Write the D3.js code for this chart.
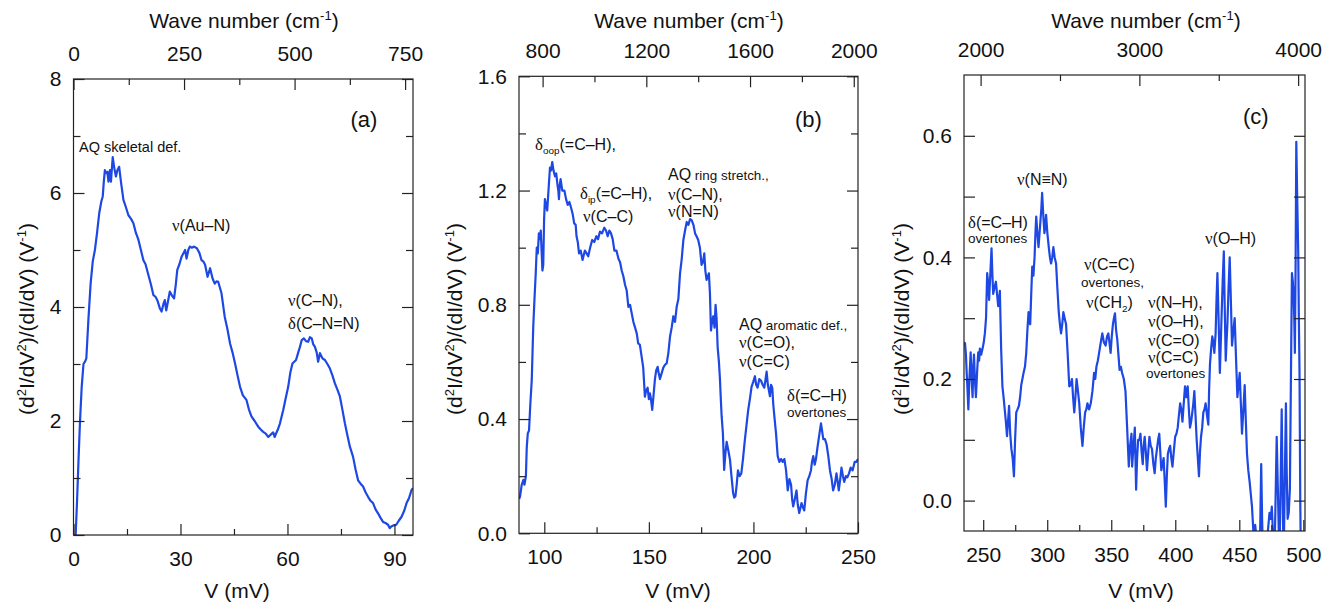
<!DOCTYPE html>
<html>
<head>
<meta charset="utf-8">
<script src="https://cdn.jsdelivr.net/npm/d3@7"></script>
<style>
body { margin: 0; background: #fff; }
text { font-family: "Liberation Sans", Arial, sans-serif; fill: #111; }
</style>
</head>
<body>
<svg id="chart" width="1337" height="605"></svg>
<script>
// ---- data: [V (mV), (d2I/dV2)/(dI/dV) (V^-1)] ----
var seriesA = [[0.6,0],[1.0,0.6],[1.4,1.3],[1.8,1.96],[2.3,2.6],[2.8,3.0],[3.3,3.05],[3.6,3.1],[4.2,3.8],[4.8,4.41],
 [5.4,4.8],[6.0,5.0],[6.6,5.3],[7.2,5.64],[7.8,5.85],[8.2,5.94],[8.5,6.2],[8.8,6.4],[9.2,6.35],[9.5,6.37],
 [9.8,6.2],[10.2,6.4],[10.5,6.2],[11.0,6.63],[11.4,6.45],[11.9,6.29],[12.3,6.4],[12.8,6.46],[13.3,6.2],[14.0,5.88],
 [14.7,5.75],[15.4,5.61],[16.1,5.55],[16.8,5.47],[17.5,5.3],[18.2,5.18],[18.9,5.0],[19.6,4.82],[20.2,4.75],[21.0,4.56],
 [21.7,4.4],[22.4,4.21],[23.0,4.18],[23.5,4.12],[24.2,3.98],[24.7,3.92],[25.2,4.05],[25.6,4.12],[26.0,3.94],[26.5,4.1],
 [27.0,4.27],[27.6,4.2],[28.2,4.15],[28.7,4.4],[29.1,4.65],[29.7,4.75],[30.3,4.88],[31.3,5.0],[31.7,4.85],[32.2,5.0],
 [32.6,5.06],[33.2,5.04],[33.8,5.06],[34.6,5.03],[35.3,4.95],[35.9,4.82],[36.4,4.8],[36.9,4.74],[37.6,4.53],[38.3,4.68],
 [39.0,4.5],[39.6,4.41],[40.1,4.45],[40.6,4.44],[41.0,4.35],[41.5,4.24],[42.4,3.83],[43.2,3.6],[43.9,3.36],[44.6,3.2],
 [45.3,3.01],[46.0,2.8],[46.7,2.6],[47.5,2.45],[48.5,2.37],[49.2,2.2],[49.9,2.08],[50.8,2.0],[51.8,1.9],[52.5,1.85],
 [53.2,1.81],[53.9,1.78],[54.6,1.72],[55.3,1.76],[56.0,1.8],[56.4,1.72],[56.8,1.78],[57.3,1.85],[57.9,1.96],[58.8,2.19],
 [59.5,2.4],[60.2,2.6],[60.8,2.85],[61.4,3.01],[62.4,3.07],[63.0,3.2],[63.5,3.3],[64.0,3.42],[64.6,3.45],[65.2,3.4],
 [65.8,3.39],[66.3,3.47],[66.8,3.45],[67.2,3.35],[67.7,3.3],[68.2,3.2],[68.6,3.04],[69.1,3.19],[69.8,3.1],[70.5,3.07],
 [71.2,3.0],[71.9,2.92],[72.6,2.8],[73.3,2.66],[74.0,2.55],[74.7,2.43],[75.4,2.2],[76.1,1.96],[76.8,1.75],[77.5,1.55],
 [78.4,1.37],[79.1,1.15],[79.8,0.96],[80.5,0.9],[81.2,0.85],[81.9,0.75],[82.6,0.67],[83.3,0.6],[84.0,0.56],[84.7,0.45],
 [85.4,0.38],[86.1,0.3],[86.8,0.23],[87.5,0.21],[88.2,0.18],[88.7,0.12],[89.1,0.15],[89.8,0.17],[90.5,0.18],[91.2,0.25],
 [92.0,0.32],[92.7,0.42],[93.4,0.56],[94.1,0.65],[94.8,0.79],[95.2,0.82]];

var seriesB = [[88.0,0.12],[88.4,0.129],[89.2,0.17],[90.0,0.187],[90.5,0.17],[91.2,0.2],[91.6,0.3],[92.1,0.35],[92.7,0.36],[93.3,0.45],
 [94.0,0.537],[94.7,0.72],[95.3,0.82],[95.9,0.91],[96.4,1.0],[96.9,0.98],[97.4,1.05],[97.9,1.03],[98.3,1.06],[98.7,0.99],
 [99.1,0.92],[99.5,0.94],[99.9,1.1],[100.3,1.17],[100.8,1.15],[101.4,1.13],[102.0,1.2],[102.7,1.28],[103.2,1.27],[103.8,1.30],
 [104.4,1.27],[105.1,1.25],[105.7,1.26],[106.3,1.22],[106.7,1.20],[107.0,1.17],[107.4,1.22],[107.8,1.24],[108.6,1.2],[109.6,1.20],
 [110.4,1.17],[111.2,1.15],[112.0,1.16],[112.8,1.14],[113.5,1.12],[114.3,1.085],[115.0,1.08],[115.4,1.04],[116.0,1.02],[116.6,0.98],
 [117.4,0.99],[118.3,0.957],[118.9,0.975],[119.4,0.99],[120.2,0.98],[121.0,0.97],[121.9,1.0],[122.9,1.027],[123.9,1.02],[124.9,1.04],
 [125.7,1.03],[126.6,1.056],[127.6,1.05],[128.7,1.07],[129.5,1.06],[130.3,1.04],[131.1,1.06],[131.9,1.05],[132.7,1.03],[133.5,0.99],
 [134.5,0.99],[135.5,0.96],[136.2,0.95],[137.0,0.92],[137.8,0.9],[138.6,0.87],[139.4,0.85],[140.2,0.793],[141.0,0.8],[141.8,0.77],
 [142.6,0.74],[143.4,0.72],[144.2,0.7],[144.9,0.665],[145.7,0.66],[146.5,0.62],[147.3,0.58],[148.1,0.478],[148.7,0.5],[149.4,0.51],
 [150.0,0.47],[150.5,0.49],[151.0,0.47],[151.6,0.432],[152.2,0.48],[152.9,0.54],[153.5,0.57],[154.2,0.583],[154.7,0.56],[155.3,0.54],
 [156.1,0.56],[156.9,0.58],[157.7,0.59],[158.5,0.595],[159.3,0.63],[160.1,0.688],[160.9,0.72],[161.7,0.76],[162.5,0.74],[163.3,0.793],
 [164.1,0.82],[164.9,0.91],[165.7,0.96],[166.5,1.027],[167.3,1.06],[168.1,1.09],[168.9,1.08],[169.7,1.1],[170.5,1.096],[171.3,1.08],
 [172.1,1.05],[172.8,1.04],[173.6,1.027],[174.4,1.0],[175.2,0.94],[175.9,0.95],[176.5,0.98],[177.0,0.92],[177.6,0.887],[178.2,0.9],
 [178.7,0.91],[179.2,0.84],[179.7,0.71],[180.2,0.74],[180.8,0.76],[181.4,0.72],[181.9,0.80],[182.4,0.75],[182.9,0.65],[183.5,0.6],
 [184.0,0.537],[184.4,0.47],[184.8,0.41],[185.4,0.35],[186.0,0.222],[186.6,0.28],[187.2,0.32],[188.0,0.29],[188.8,0.257],[189.5,0.2],
 [190.3,0.14],[190.8,0.125],[191.4,0.13],[192.0,0.17],[192.6,0.22],[193.4,0.2],[194.2,0.21],[195.0,0.26],[195.9,0.327],[196.7,0.38],
 [197.5,0.432],[198.3,0.47],[199.1,0.513],[199.9,0.53],[200.7,0.55],[201.3,0.52],[202.0,0.51],[202.8,0.54],[203.6,0.535],[204.4,0.52],
 [205.2,0.51],[205.8,0.54],[206.3,0.566],[206.9,0.52],[207.4,0.5],[207.9,0.48],[208.4,0.52],[209.0,0.51],[209.5,0.45],[210.0,0.41],
 [210.8,0.35],[211.6,0.27],[212.4,0.25],[213.2,0.26],[214.0,0.25],[214.8,0.26],[215.6,0.22],[216.4,0.15],[217.2,0.19],[218.0,0.17],
 [218.5,0.12],[219.0,0.094],[219.8,0.12],[220.6,0.15],[221.2,0.1],[221.9,0.071],[222.5,0.09],[223.0,0.106],[223.7,0.09],[224.3,0.08],
 [225.1,0.14],[225.9,0.185],[226.7,0.2],[227.5,0.22],[228.0,0.25],[228.6,0.27],[229.3,0.24],[229.9,0.26],[230.6,0.3],[231.4,0.34],
 [232.3,0.385],[232.8,0.36],[233.4,0.33],[234.2,0.33],[235.0,0.31],[235.8,0.27],[236.6,0.22],[237.4,0.19],[238.1,0.15],[238.9,0.17],
 [239.7,0.21],[240.3,0.18],[240.8,0.15],[241.5,0.19],[242.1,0.23],[242.8,0.2],[243.4,0.18],[244.2,0.2],[244.9,0.196],[245.7,0.21],
 [246.5,0.23],[247.4,0.22],[248.4,0.25],[249.2,0.25],[250,0.26]];

var seriesC = [[235.0,0.26],[235.8,0.259],[236.5,0.24],[237.1,0.21],[237.8,0.18],[238.4,0.15],[239.2,0.2],[240.2,0.244],[241.0,0.2],[241.7,0.17],
 [242.3,0.22],[242.8,0.24],[243.5,0.2],[244.3,0.17],[245.2,0.21],[246.1,0.244],[246.8,0.23],[247.4,0.25],[248.4,0.24],[249.5,0.25],
 [250.4,0.26],[251.3,0.275],[252.2,0.3],[253.1,0.374],[253.8,0.36],[254.6,0.33],[255.5,0.37],[256.5,0.415],[257.2,0.37],[257.8,0.34],
 [258.8,0.35],[259.9,0.36],[260.8,0.34],[261.7,0.32],[262.4,0.33],[263.0,0.345],[264.0,0.25],[265.0,0.188],[265.9,0.17],[266.8,0.15],
 [267.7,0.13],[268.6,0.106],[269.4,0.13],[270.2,0.156],[271.1,0.11],[272.0,0.085],[273.0,0.07],[274.0,0.04],[274.9,0.1],[275.8,0.145],
 [276.8,0.15],[277.9,0.156],[278.8,0.17],[279.7,0.19],[280.6,0.2],[281.5,0.21],[282.6,0.22],[283.6,0.243],[284.5,0.28],[285.4,0.31],
 [286.1,0.3],[286.7,0.29],[287.5,0.34],[288.3,0.385],[289.2,0.37],[290.1,0.40],[290.8,0.44],[291.4,0.467],[292.3,0.44],[293.2,0.417],
 [294.0,0.44],[294.7,0.46],[295.4,0.48],[296.0,0.506],[296.9,0.47],[297.8,0.44],[298.5,0.45],[299.1,0.47],[300.1,0.44],[301.2,0.417],
 [302.1,0.4],[303.0,0.39],[303.9,0.4],[304.8,0.417],[305.8,0.4],[306.9,0.39],[307.9,0.35],[309.0,0.31],[309.9,0.29],[310.8,0.275],
 [311.7,0.29],[312.6,0.31],[313.6,0.3],[314.7,0.29],[316.0,0.24],[317.2,0.188],[318.3,0.19],[319.3,0.20],[320.2,0.17],[321.1,0.145],
 [322.0,0.17],[322.9,0.20],[324.0,0.18],[325.0,0.16],[326.2,0.12],[327.5,0.09],[328.5,0.12],[329.6,0.145],[330.5,0.15],[331.4,0.16],
 [332.7,0.15],[334.0,0.16],[335.3,0.18],[336.6,0.21],[337.5,0.2],[338.4,0.22],[339.5,0.23],[340.5,0.243],[341.8,0.26],[343.0,0.275],
 [344.3,0.26],[345.6,0.255],[346.7,0.27],[347.7,0.275],[348.6,0.26],[349.5,0.243],[350.4,0.27],[351.3,0.29],[352.1,0.3],[352.9,0.308],
 [353.8,0.28],[354.7,0.265],[355.6,0.24],[356.5,0.215],[357.5,0.22],[358.5,0.21],[359.8,0.2],[361.1,0.18],[362.4,0.12],[363.7,0.056],
 [364.7,0.09],[365.8,0.11],[366.3,0.056],[367.4,0.09],[368.4,0.12],[369.4,0.018],[370.2,0.07],[371.0,0.10],[372.0,0.1],[372.8,0.11],
 [373.7,0.08],[374.6,0.06],[375.3,0.09],[376.1,0.105],[377.0,0.08],[377.9,0.05],[378.9,0.08],[379.8,0.105],[380.8,0.09],[381.8,0.085],
 [382.9,0.06],[383.9,0.045],[384.8,0.07],[385.7,0.085],[386.6,0.1],[387.5,0.11],[388.3,0.08],[389.1,0.05],[390.0,0.06],[390.9,0.07],
 [391.8,0.03],[392.6,-0.01],[393.4,0.04],[394.2,0.077],[395.1,0.085],[396.0,0.09],[396.9,0.07],[397.8,0.056],[398.8,0.08],[399.9,0.105],
 [400.9,0.11],[401.9,0.12],[402.8,0.14],[403.8,0.16],[404.7,0.15],[405.6,0.13],[406.6,0.16],[407.6,0.188],[408.7,0.17],[409.7,0.188],
 [410.6,0.15],[411.5,0.12],[412.4,0.13],[413.3,0.145],[414.1,0.16],[414.9,0.18],[415.8,0.14],[416.7,0.10],[417.6,0.07],[418.5,0.04],
 [419.3,0.08],[420.1,0.105],[421.0,0.12],[421.9,0.145],[422.8,0.15],[423.7,0.16],[424.8,0.14],[425.8,0.125],[426.4,0.18],[427.1,0.225],
 [428.0,0.25],[428.9,0.27],[429.7,0.26],[430.5,0.243],[431.5,0.275],[432.2,0.33],[432.9,0.374],[433.8,0.3],[434.8,0.21],[435.4,0.25],
 [436.1,0.30],[437.0,0.36],[437.9,0.41],[438.6,0.32],[439.4,0.23],[440.0,0.26],[440.7,0.29],[441.6,0.35],[442.5,0.40],[443.4,0.33],
 [444.3,0.255],[445.4,0.28],[446.4,0.30],[447.5,0.23],[448.5,0.17],[449.4,0.19],[450.3,0.21],[451.2,0.16],[452.1,0.11],[453.2,0.15],
 [454.2,0.19],[455.1,0.13],[456.0,0.077],[457.0,0.05],[458.1,0.03],[459.0,0.01],[459.9,-0.01],[460.7,-0.04],[461.5,-0.07],[462.4,-0.04],
 [463.3,-0.06],[464.6,-0.09],[465.9,-0.1],[466.5,-0.02],[467.1,0.06],[467.8,-0.03],[468.5,-0.09],[469.8,-0.1],[471.0,-0.08],[472.3,-0.05],
 [473.6,-0.02],[474.5,-0.03],[475.4,-0.01],[476.4,-0.06],[477.4,-0.1],[478.3,0.0],[479.2,0.105],[480.3,0.0],[481.3,-0.1],[482.2,0.02],
 [483.1,0.15],[483.9,0.0],[484.6,-0.1],[485.5,0.03],[486.4,0.16],[487.0,0.05],[487.7,-0.03],[488.6,-0.02],[489.5,0.02],[490.3,0.2],
 [491.1,0.374],[491.8,0.36],[492.4,0.34],[492.9,0.3],[493.4,0.243],[494.0,0.4],[494.5,0.59],[495.2,0.5],[496.0,0.41],[496.5,0.3],
 [497.0,0.215],[497.6,0.0],[498.1,-0.1],[498.8,-0.1]];

// ---- ticks ----
var xTicksA = [0, 30, 60, 90],        xMinorA = [15, 45, 75];
var yTicksA = [0, 2, 4, 6, 8],        yMinorA = [1, 3, 5, 7];
var wTicksA = [0, 250, 500, 750],     wMinorA = [125, 375, 625];
var xTicksB = [100, 150, 200, 250],   xMinorB = [125, 175, 225];
var yTicksB = [0, 0.4, 0.8, 1.2, 1.6], yMinorB = [0.2, 0.6, 1.0, 1.4];
var wTicksB = [800, 1200, 1600, 2000], wMinorB = [1000, 1400, 1800];
var xTicksC = [250, 300, 350, 400, 450, 500], xMinorC = [275, 325, 375, 425, 475];
var yTicksC = [0, 0.2, 0.4, 0.6],     yMinorC = [0.1, 0.3, 0.5];
var wTicksC = [2000, 3000, 4000],     wMinorC = [2500, 3500];

var CM_PER_MEV = 8.0655;
var FONT = "'Liberation Sans', Arial, sans-serif";
var GREEK = "'Liberation Serif', 'Times New Roman', serif";
var lineColor = "#1e48e4";

var panels = [
  {id: "a", l: 73.5, r: 413, t: 79, b: 535, xDom: [0, 95.2], yDom: [0, 8], data: seriesA,
   xt: xTicksA, xm: xMinorA, yt: yTicksA, ym: yMinorA, wt: wTicksA, wm: wMinorA, yFmt: d3.format("d"), minorY: 7,
   ylx: 34, vx: 237, wx: 244},
  {id: "b", l: 519, r: 858, t: 76.3, b: 533.3, xDom: [87.9, 250], yDom: [0, 1.6], data: seriesB,
   xt: xTicksB, xm: xMinorB, yt: yTicksB, ym: yMinorB, wt: wTicksB, wm: wMinorB, yFmt: d3.format(".1f"), minorY: 7,
   ylx: 462, vx: 678, wx: 689},
  {id: "c", l: 964, r: 1305, t: 75, b: 531, xDom: [235, 501.3], yDom: [-0.05, 0.7], data: seriesC,
   xt: xTicksC, xm: xMinorC, yt: yTicksC, ym: yMinorC, wt: wTicksC, wm: wMinorC, yFmt: d3.format(".1f"), minorY: 11,
   ylx: 909, vx: 1141, wx: 1146}
];

var notes = [
  {x: 79, y: 152, fs: 14.5, t: [["AQ skeletal def."]]},
  {x: 172, y: 231, fs: 16, t: [["ν", "g"], ["(Au–N)"]]},
  {x: 288, y: 306, fs: 16, t: [["ν", "g"], ["(C–N),"]]},
  {x: 288, y: 329, fs: 16, t: [["δ", "g"], ["(C–N=N)"]]},
  {x: 350.5, y: 127, fs: 22, t: [["(a)"]]},
  {x: 535, y: 150, fs: 16, t: [["δ", "g"], ["oop", "sub"], ["(=C–H),"]]},
  {x: 580, y: 199, fs: 16, t: [["δ", "g"], ["ip", "sub"], ["(=C–H),"]]},
  {x: 583, y: 222, fs: 16, t: [["ν", "g"], ["(C–C)"]]},
  {x: 668, y: 180, fs: 16, t: [["AQ"], [" ring stretch.,", "sm"]]},
  {x: 668, y: 200, fs: 16, t: [["ν", "g"], ["(C–N),"]]},
  {x: 668, y: 217, fs: 16, t: [["ν", "g"], ["(N=N)"]]},
  {x: 795, y: 127, fs: 22, t: [["(b)"]]},
  {x: 739, y: 330, fs: 16, t: [["AQ"], [" aromatic def.,", "sm"]]},
  {x: 739, y: 348, fs: 16, t: [["ν", "g"], ["(C=O),"]]},
  {x: 739, y: 367, fs: 16, t: [["ν", "g"], ["(C=C)"]]},
  {x: 787, y: 401, fs: 16, t: [["δ", "g"], ["(=C–H)"]]},
  {x: 787, y: 417, fs: 13.5, t: [["overtones"]]},
  {x: 1243, y: 124, fs: 22, t: [["(c)"]]},
  {x: 1017, y: 185, fs: 16, t: [["ν", "g"], ["(N≡N)"]]},
  {x: 968, y: 228, fs: 16, t: [["δ", "g"], ["(=C–H)"]]},
  {x: 968, y: 243, fs: 13.5, t: [["overtones"]]},
  {x: 1205, y: 244, fs: 16, t: [["ν", "g"], ["(O–H)"]]},
  {x: 1084, y: 270, fs: 16, t: [["ν", "g"], ["(C=C)"]]},
  {x: 1081, y: 287, fs: 13.5, t: [["overtones,"]]},
  {x: 1086, y: 308, fs: 16, t: [["ν", "g"], ["(CH"], ["2", "sub"], [")"]]},
  {x: 1148, y: 308, fs: 16, t: [["ν", "g"], ["(N–H),"]]},
  {x: 1148, y: 327, fs: 16, t: [["ν", "g"], ["(O–H),"]]},
  {x: 1148, y: 346, fs: 16, t: [["ν", "g"], ["(C=O)"]]},
  {x: 1148, y: 363, fs: 16, t: [["ν", "g"], ["(C=C)"]]},
  {x: 1146, y: 378, fs: 13.5, t: [["overtones"]]}
];

var svg = d3.select("#chart");

// writes text pieces with sub/superscripts and greek letters into a <text>
function rich(sel, parts, size) {
  var shift = 0;
  parts.forEach(function(p) {
    var kind = p[1] || "";
    var t = sel.append("tspan").text(p[0]);
    var target = 0;
    if (kind === "sup") { t.attr("font-size", size * 0.62); target = -size * 0.4; }
    else if (kind === "sub") { t.attr("font-size", size * 0.62); target = size * 0.28; }
    else if (kind === "sm") { t.attr("font-size", size * 0.84); }
    else if (kind === "g") { t.attr("font-family", GREEK).attr("font-size", size * 1.05); }
    if (target !== shift) t.attr("dy", target - shift);
    shift = target;
  });
}

function addAxis(g, orient, scale, vals, len, pad, fmt, tx, ty) {
  var ax = orient(scale).tickValues(vals).tickSizeInner(-len).tickSizeOuter(0)
    .tickPadding(pad).tickFormat(fmt || function() { return ""; });
  var a = g.append("g").attr("transform", "translate(" + tx + "," + ty + ")").call(ax);
  a.select(".domain").remove();
  a.selectAll("line").attr("stroke", "#222").attr("stroke-width", 1.2);
  a.selectAll("text").attr("font-size", 21).attr("font-family", FONT).attr("fill", "#111");
  return a;
}

panels.forEach(function(p) {
  var x = d3.scaleLinear().domain(p.xDom).range([p.l, p.r]);
  var y = d3.scaleLinear().domain(p.yDom).range([p.b, p.t]);
  var w = d3.scaleLinear().domain([p.xDom[0] * CM_PER_MEV, p.xDom[1] * CM_PER_MEV]).range([p.l, p.r]);
  var g = svg.append("g");

  g.append("clipPath").attr("id", "clip-" + p.id)
    .append("rect").attr("x", p.l).attr("y", p.t).attr("width", p.r - p.l).attr("height", p.b - p.t);

  g.append("path")
    .datum(p.data)
    .attr("clip-path", "url(#clip-" + p.id + ")")
    .attr("fill", "none")
    .attr("stroke", lineColor)
    .attr("stroke-width", 2.2)
    .attr("stroke-linejoin", "round")
    .attr("d", d3.line().x(function(d) { return x(d[0]); }).y(function(d) { return y(d[1]); }));

  // bottom (V) and top (wave number) axes
  addAxis(g, d3.axisBottom, x, p.xt, 11, 16, d3.format("d"), 0, p.b);
  addAxis(g, d3.axisBottom, x, p.xm, 6, 16, null, 0, p.b);
  addAxis(g, d3.axisTop, w, p.wt, 11, 18, d3.format("d"), 0, p.t);
  addAxis(g, d3.axisTop, w, p.wm, 6, 18, null, 0, p.t);
  // left and right
  addAxis(g, d3.axisLeft, y, p.yt, 11, 12, p.yFmt, p.l, 0);
  addAxis(g, d3.axisLeft, y, p.ym, p.minorY, 12, null, p.l, 0);
  addAxis(g, d3.axisRight, y, p.yt, 11, 12, null, p.r, 0);
  addAxis(g, d3.axisRight, y, p.ym, p.minorY, 12, null, p.r, 0);

  g.append("rect").attr("x", p.l).attr("y", p.t).attr("width", p.r - p.l).attr("height", p.b - p.t)
    .attr("fill", "none").attr("stroke", "#222").attr("stroke-width", 1.2);

  // axis titles
  var wt = g.append("text").attr("x", p.wx).attr("y", 28).attr("text-anchor", "middle").attr("font-size", 21);
  rich(wt, [["Wave number (cm"], ["-1", "sup"], [")"]], 21);

  g.append("text").attr("x", p.vx).attr("y", 598).attr("text-anchor", "middle").attr("font-size", 21)
    .text("V (mV)");

  var yl = g.append("text").attr("transform", "translate(" + p.ylx + ",319) rotate(-90)")
    .attr("text-anchor", "middle").attr("font-size", 21);
  rich(yl, [["(d"], ["2", "sup"], ["I/dV"], ["2", "sup"], [")/(dI/dV) (V"], ["-1", "sup"], [")"]], 21);
});

notes.forEach(function(n) {
  var t = svg.append("text").attr("x", n.x).attr("y", n.y).attr("font-size", n.fs);
  rich(t, n.t, n.fs);
});
</script>
</body>
</html>
